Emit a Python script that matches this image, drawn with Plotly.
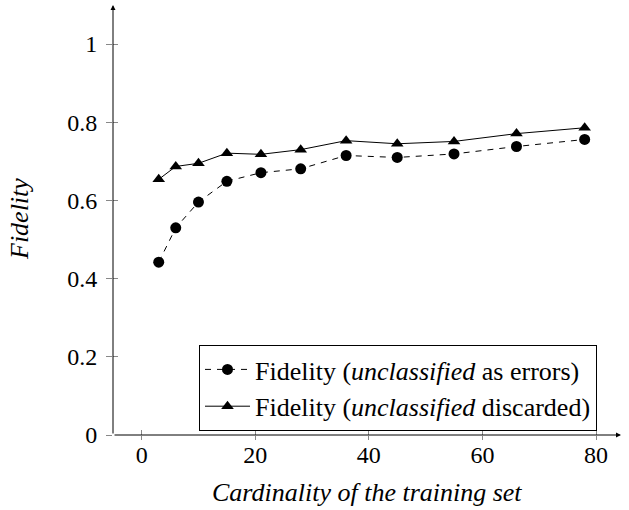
import plotly.graph_objects as go

cardinality = [3, 6, 10, 15, 21, 28, 36, 45, 55, 66, 78]
fid_errors = [0.442, 0.530, 0.596, 0.649, 0.671, 0.681, 0.715, 0.710, 0.719, 0.738, 0.756]
fid_discarded = [0.654, 0.687, 0.695, 0.721, 0.718, 0.730, 0.753, 0.745, 0.751, 0.771, 0.786]
x_ticks = [0, 20, 40, 60, 80]
y_ticks = [0, 0.2, 0.4, 0.6, 0.8, 1]
y_tick_labels = ["0", "0.2", "0.4", "0.6", "0.8", "1"]

FONT = "'Liberation Serif', 'Times New Roman', Times, serif"
TICK_SIZE = 24
TEXT_SIZE = 26
XR = [-5.05, 84.4]
YR = [0, 1.1]
L, R, T, B = 113, 8, 5, 75
W, H = 629, 510
PW, PH = W - L - R, H - T - B

fig = go.Figure()
fig.add_trace(go.Scatter(
    x=cardinality, y=fid_errors, mode="lines+markers",
    name="Fidelity (<i>unclassified</i> as errors)",
    line=dict(color="black", width=1, dash="6px,6px"),
    marker=dict(symbol="circle", size=11, color="black"),
))
fig.add_trace(go.Scatter(
    x=cardinality, y=fid_discarded, mode="lines+markers",
    name="Fidelity (<i>unclassified</i> discarded)",
    line=dict(color="black", width=1),
    marker=dict(symbol="triangle-up", size=11, color="black"),
))

fig.update_layout(
    width=W, height=H,
    margin=dict(l=L, r=R, t=T, b=B, autoexpand=False),
    plot_bgcolor="white", paper_bgcolor="white",
    font=dict(family=FONT, size=TEXT_SIZE, color="black"),
    showlegend=True,
    legend=dict(
        x=(199 - L) / PW, y=(H - B - 345) / PH, xanchor="left", yanchor="top",
        bordercolor="black", borderwidth=1, bgcolor="white",
        font=dict(family=FONT, size=TEXT_SIZE, color="black"),
        itemwidth=45, tracegroupgap=0,
    ),
    xaxis=dict(
        range=XR, tickmode="array", tickvals=x_ticks, automargin=False,
        ticks="outside", ticklen=4, tickcolor="#888888", tickwidth=1,
        showgrid=False, zeroline=False, showline=False,
        tickfont=dict(family=FONT, size=TICK_SIZE), ticklabelstandoff=-6,
    ),
    yaxis=dict(
        range=YR, tickmode="array", tickvals=y_ticks, ticktext=y_tick_labels,
        automargin=False,
        ticks="outside", ticklen=6, tickcolor="#888888", tickwidth=1,
        showgrid=False, zeroline=False, showline=False,
        tickfont=dict(family=FONT, size=TICK_SIZE), ticklabelstandoff=4,
    ),
    xaxis2=dict(range=XR, overlaying="x", tickmode="array", tickvals=x_ticks,
                ticks="inside", ticklen=5, tickcolor="#888888", showticklabels=False,
                showgrid=False, zeroline=False, showline=False, matches="x"),
    yaxis2=dict(range=YR, overlaying="y", tickmode="array", tickvals=y_ticks,
                ticks="inside", ticklen=5, tickcolor="#888888", showticklabels=False,
                showgrid=False, zeroline=False, showline=False, matches="y"),
)
# dummy invisible trace to activate the secondary axes
fig.add_trace(go.Scatter(x=[cardinality[0]], y=[fid_errors[0]], xaxis="x2", yaxis="y2",
                         mode="markers", marker=dict(opacity=0), showlegend=False,
                         hoverinfo="skip"))

# axis titles
fig.add_annotation(text="<i>Cardinality of the training set</i>", xref="paper", yref="paper",
                   x=(367 - L) / PW, y=-(493 - (H - B)) / PH, showarrow=False,
                   xanchor="center", yanchor="middle", font=dict(family=FONT, size=TEXT_SIZE))
fig.add_annotation(text="<i>Fidelity</i>", xref="paper", yref="paper", textangle=-90,
                   x=(20 - L) / PW, y=(H - B - 219) / PH, showarrow=False,
                   xanchor="center", yanchor="middle", font=dict(family=FONT, size=TEXT_SIZE))

# axis lines with arrows
fig.add_annotation(x=1, y=0, ax=0, ay=0, xref="x domain", yref="y domain",
                   axref="x domain", ayref="y domain", showarrow=True, arrowhead=2,
                   arrowsize=1, arrowwidth=1, arrowcolor="black", text="")
fig.add_annotation(x=0, y=1, ax=0, ay=0, xref="x domain", yref="y domain",
                   axref="x domain", ayref="y domain", showarrow=True, arrowhead=2,
                   arrowsize=1, arrowwidth=1, arrowcolor="black", text="")

fig.write_html("out.html", config={"displayModeBar": False},
               post_script="document.body.style.margin='0';")
